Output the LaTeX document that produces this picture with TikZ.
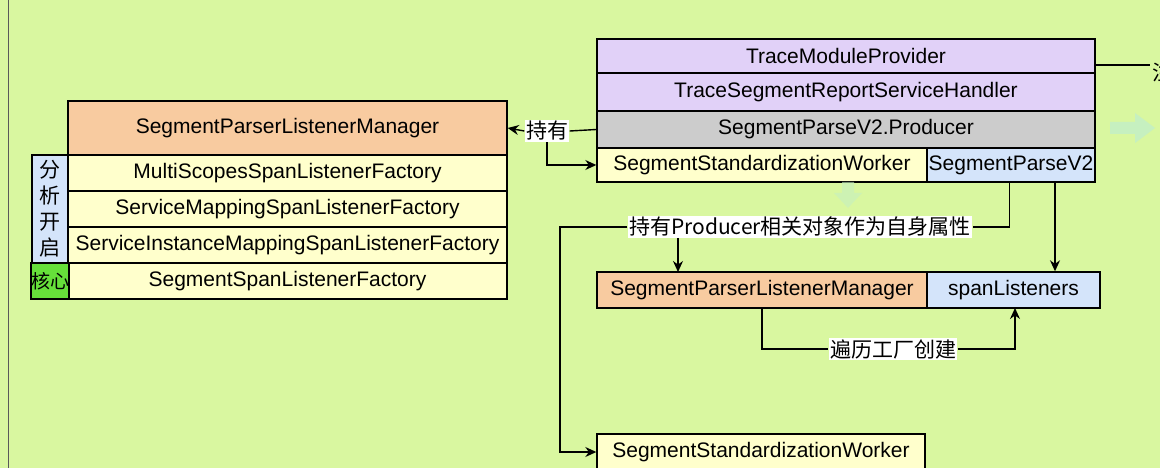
\documentclass[tikz,border=0pt]{standalone}
\usepackage{fontspec}
\setmainfont{Liberation Sans}
\newfontfamily\cjk{Noto Sans CJK SC}
\usetikzlibrary{arrows.meta}
\definecolor{bg}{HTML}{D9F7A0}
\definecolor{orangebox}{HTML}{F8CBA0}
\definecolor{yellowbox}{HTML}{FFFFCC}
\definecolor{bluebox}{HTML}{D4E4FA}
\definecolor{purplebox}{HTML}{E1D1F8}
\definecolor{graybox}{HTML}{CCCCCC}
\definecolor{greenbox}{HTML}{66E03A}
\definecolor{palearrow}{HTML}{C6F0C0}
\tikzset{
  box/.style={draw, inner sep=0pt, font=\fontsize{21}{24}\selectfont},
  lbl/.style={fill=white, inner sep=1pt, font=\cjk\fontsize{21}{24}\selectfont}
}
\begin{document}
\begin{tikzpicture}[x=1pt, y=-1pt, >={Stealth[length=11pt,width=10pt]}, line width=1.4pt]
        % Fond
        \fill[bg] (0,0) rectangle (1160,468);
        \useasboundingbox (0,0) rectangle (1160,468);
        \draw[thin, gray!70!black] (8,0) -- (8,468);

        % Tableau de gauche
        \node[box, fill=orangebox, minimum width=439pt, minimum height=54pt] (mgr) at (287.5,128) {SegmentParserListenerManager};
        \node[box, fill=yellowbox, minimum width=439pt, minimum height=36pt] (f1) at (287.5,173) {MultiScopesSpanListenerFactory};
        \node[box, fill=yellowbox, minimum width=439pt, minimum height=36pt] (f2) at (287.5,209) {ServiceMappingSpanListenerFactory};
        \node[box, fill=yellowbox, minimum width=439pt, minimum height=36pt] (f3) at (287.5,245) {ServiceInstanceMappingSpanListenerFactory};
        \node[box, fill=yellowbox, minimum width=439pt, minimum height=36pt] (f4) at (287.5,281) {SegmentSpanListenerFactory};
        \node[box, fill=bluebox, minimum width=36pt, minimum height=108pt, align=center, font=\cjk\fontsize{21}{26}\selectfont] (fx) at (50,209) {分\\析\\开\\启};
        \node[box, fill=greenbox, minimum width=36pt, minimum height=36pt, font=\cjk\fontsize{19}{22}\selectfont] (core) at (50,281) {核心};

        % Bloc en haut a droite
        \node[box, fill=purplebox, minimum width=498pt, minimum height=34pt] (tmp) at (846,56) {TraceModuleProvider};
        \node[box, fill=purplebox, minimum width=498pt, minimum height=38pt] (tsr) at (846,92) {TraceSegmentReportServiceHandler};
        \node[box, fill=graybox, minimum width=498pt, minimum height=37pt] (prod) at (846,129.5) {SegmentParseV2.Producer};
        \node[box, fill=yellowbox, minimum width=330pt, minimum height=34pt] (ssw) at (762,165) {SegmentStandardizationWorker};
        \node[box, fill=bluebox, minimum width=168pt, minimum height=34pt] (spv) at (1011,165) {SegmentParseV2};

        % Fleches pales
        \fill[palearrow] (1110,122) -- (1135,122) -- (1135,113) -- (1155,128) -- (1135,143) -- (1135,134) -- (1110,134) -- cycle;
        \fill[palearrow, opacity=.6] (842,182) -- (854,182) -- (854,193) -- (862,193) -- (848,208) -- (834,193) -- (842,193) -- cycle;

        % Milieu et bas
        \node[box, fill=orangebox, minimum width=330pt, minimum height=36pt] (mgr2) at (762,290) {SegmentParserListenerManager};
        \node[box, fill=bluebox, minimum width=173pt, minimum height=36pt] (spl) at (1013.5,290) {spanListeners};
        \node[box, fill=yellowbox, minimum width=328pt, minimum height=36pt] (ssw2) at (761,452) {SegmentStandardizationWorker};

        % Liens
        \node[lbl] (hold) at (547,131) {持有};
        \draw (prod.west) -- (hold.east);
        \draw[->] (hold.west) -- (mgr.east);
        \draw[->] (hold.south) |- (ssw.west);

        \node[lbl] (own) at (800,227) {持有Producer相关对象作为自身属性};
        \coordinate (c1) at (560,227);
        \draw (spv.south west) ++(83,0) |- (own.east);
        \draw[->] (own.west) -- (c1) |- (ssw2.west);
        \draw[->] (own.south -| 678,0) -- (678,272);
        \draw[->] (1055,182) -- (spl.north -| 1055,0);

        \node[lbl] (iter) at (893,349) {遍历工厂创建};
        \draw (762,308) |- (iter.west);
        \draw[->] (iter.east) -| (1015,308);

        \coordinate (tip) at (1150,65);
        \draw (tmp.east |- tip) -- (tip);
        \node[font=\cjk\fontsize{21}{24}\selectfont, anchor=west, inner sep=0pt] (note) at (1152,72) {注};
\end{tikzpicture}
\end{document}
